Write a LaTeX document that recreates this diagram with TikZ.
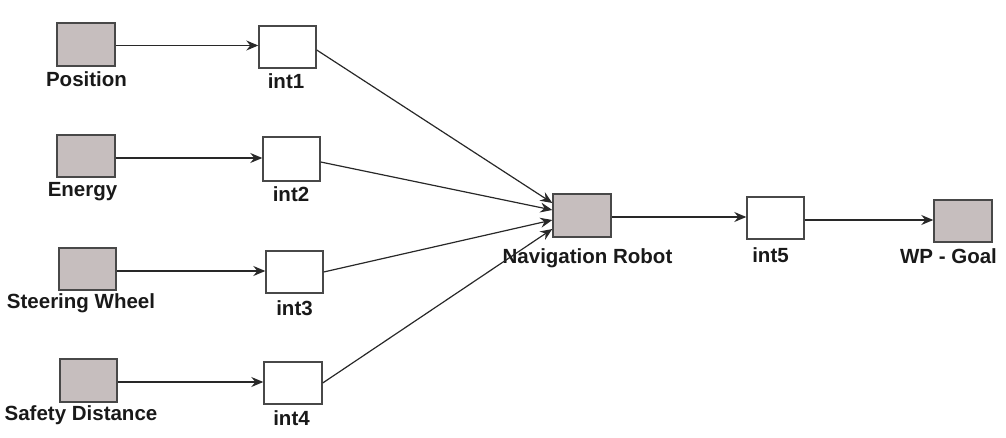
\documentclass[tikz,border=0pt]{standalone}
\usepackage{fontspec}
\setmainfont{Liberation Sans}
\usetikzlibrary{arrows.meta}
\definecolor{boxgray}{RGB}{198,190,190}
\definecolor{edgegray}{RGB}{72,72,72}
\definecolor{linecol}{RGB}{40,40,40}
\begin{document}
\begin{tikzpicture}[x=1pt,y=-1pt,
  box/.style={draw=edgegray,line width=1.4pt,inner sep=0pt,minimum width=57pt,minimum height=42pt},
  src/.style={box,fill=boxgray},
  intbox/.style={box,fill=white},
  lbl/.style={inner sep=0pt,anchor=base,font=\fontsize{20.5}{24}\selectfont\bfseries,text=black!90},
  conn/.style={draw=linecol,line width=1.2pt,-{Stealth[length=12pt,width=10pt,inset=4pt]}}]
\useasboundingbox (0,0) rectangle (1006,438);
% source boxes
\node[src,minimum width=58pt,minimum height=43pt] (pos) at (86,44.5) {};
\node[src,minimum width=58pt] (energy) at (86,156) {};
\node[src] (steer) at (87.5,269) {};
\node[src,minimum height=43pt] (safety) at (88.5,380.5) {};
\node[src,minimum width=58pt,minimum height=43pt] (nav) at (582,215.5) {};
\node[src,minimum width=58pt] (wp) at (963,221) {};
% int boxes
\node[intbox] (int1) at (287.5,47) {};
\node[intbox,minimum height=44pt] (int2) at (291.5,159) {};
\node[intbox] (int3) at (294.5,272) {};
\node[intbox,minimum width=58pt] (int4) at (293,383) {};
\node[intbox] (int5) at (775.5,218) {};
% labels
\node[lbl] (lpos) at (86.5,87) {Position};
\node[lbl] (lenergy) at (82.5,197) {Energy};
\node[lbl] (lsteer) at (81,308) {Steering Wheel};
\node[lbl] (lsafety) at (81,420) {Safety Distance};
\node[lbl] (lint1) at (286,89) {int1};
\node[lbl] (lint2) at (291,202) {int2};
\node[lbl] (lint3) at (294.5,315) {int3};
\node[lbl] (lint4) at (291.5,425) {int4};
\node[lbl] (lnav) at (587.5,264) {Navigation Robot};
\node[lbl] (lint5) at (770.5,262) {int5};
\node[lbl] (lwp) at (948.5,264) {WP - Goal};
% connectors
\draw[conn] ([yshift=-1pt]pos.east) -- ([yshift=-1pt]pos.east -| int1.west);
\draw[conn] ([yshift=-2pt]energy.east) -- ([yshift=-2pt]energy.east -| int2.west);
\draw[conn] ([yshift=-2pt]steer.east) -- ([yshift=-2pt]steer.east -| int3.west);
\draw[conn] ([yshift=-1.5pt]safety.east) -- ([yshift=-1.5pt]safety.east -| int4.west);
\draw[conn] ([yshift=-3pt]int1.east) -- ([yshift=12.5pt]nav.west);
\draw[conn] ([yshift=-3pt]int2.east) -- ([yshift=5.5pt]nav.west);
\draw[conn] (int3.east) -- ([yshift=-4.5pt]nav.west);
\draw[conn] (int4.east) -- ([yshift=-13.5pt]nav.west);
\draw[conn] ([yshift=-1.5pt]nav.east) -- ([yshift=-1.5pt]nav.east -| int5.west);
\draw[conn] ([yshift=-2pt]int5.east) -- ([yshift=-2pt]int5.east -| wp.west);
\end{tikzpicture}
\end{document}
